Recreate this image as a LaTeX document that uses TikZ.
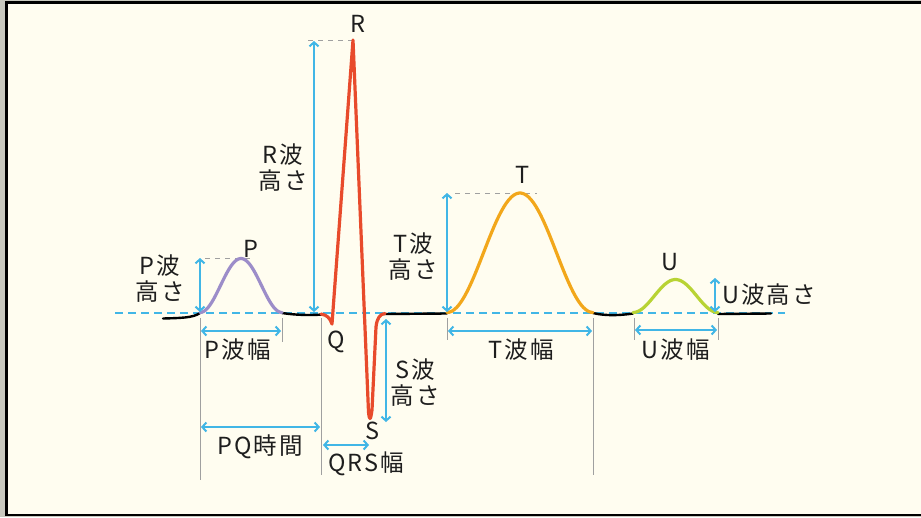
\documentclass[tikz,border=0pt]{standalone}
\usepackage{fontspec}
\setmainfont{Noto Sans CJK JP}[LetterSpace=9]
\usetikzlibrary{arrows.meta}
\definecolor{cream}{HTML}{FFFDF0}
\definecolor{edge}{HTML}{C9C9BF}
\definecolor{ablue}{HTML}{41B6E6}
\definecolor{pcol}{HTML}{9C8DC9}
\definecolor{rcol}{HTML}{E84B2C}
\definecolor{tcol}{HTML}{F2A71B}
\definecolor{ucol}{HTML}{B8D334}
\definecolor{gline}{HTML}{A0A0A0}
\definecolor{txt}{HTML}{1E1E1E}
\tikzset{
  lbl/.style={text=txt, font=\fontsize{23.5}{26}\selectfont, inner sep=0pt, align=center},
  meas/.style={draw=ablue, line width=2pt, {Straight Barb[length=4pt,width=9pt]}-{Straight Barb[length=4pt,width=9pt]}},
  guide/.style={draw=gline, line width=0.8pt},
  guidedash/.style={draw=gline, line width=0.8pt, dash pattern=on 5pt off 5pt},
  base/.style={draw=black, line width=2.4pt, line cap=round},
  wave/.style={line width=3.2pt, line cap=round, line join=round},
}
\begin{document}
\begin{tikzpicture}[x=1pt,y=-1pt]
\useasboundingbox (0,0) rectangle (921,517);
% background and frame
\fill[edge] (0,0) rectangle (921,517);
\fill[cream] (6,2) rectangle (921,515);
\draw[black, line width=2.6pt] (921,2.2) -- (6.3,2.2) -- (6.3,514.8) -- (921,514.8);

% baseline
\draw[ablue, line width=2pt, dash pattern=on 8pt off 5pt] (115,312.5) -- (785,312.5);

% guide lines
\draw[guide] (200,318) -- (200,480);
\draw[guide] (282,318) -- (282,342);
\draw[guide] (321,318) -- (321,475);
\draw[guide] (447,318) -- (447,340);
\draw[guide] (593,318) -- (593,475);
\draw[guide] (634,318) -- (634,340);
\draw[guide] (718,318) -- (718,340);
\draw[guidedash] (205,258) -- (250,258);
\draw[guidedash] (308,40) -- (353,40);
\draw[guidedash] (455,193) -- (537,193);

% black baseline pieces
\draw[base] (163,318.5) .. controls (180,318) and (193,318) .. (200,313);
\draw[base] (282,313) .. controls (295,315) and (310,315.5) .. (322,314.5);
\draw[base] (384,314) -- (447,313.5);
\draw[base] (593,313) .. controls (605,316) and (620,315.5) .. (633,313.5);
\draw[base] (718,314) -- (771,313.5);

% waves
\draw[wave, pcol] plot[domain=0:1, samples=50, variable=\t] ({200+82*\t},{312.5-54*(1-cos(360*\t))/2});
\draw[wave, tcol] plot[domain=0:1, samples=60, variable=\t] ({447+146*\t},{312.5-119.5*(1-cos(360*\t))/2});
\draw[wave, ucol] plot[domain=0:1, samples=40, variable=\t] ({633+85*\t},{312.5-33*(1-cos(360*\t))/2});
\draw[wave, rcol] (321,314) .. controls (327,315) and (330,318) .. (332,324)
  -- (353,40) -- (368.5,412) .. controls (369.5,421) and (370.5,421) .. (372,410)
  -- (376,327) .. controls (377,318) and (380,314) .. (385,313.5);

% measurement coordinates
\coordinate (pb) at (200,312); \coordinate (pt) at (200,258);
\coordinate (rb) at (314,312); \coordinate (rt) at (314,41);
\coordinate (tb) at (447,312); \coordinate (tt) at (447,193);
\coordinate (ub) at (715,312); \coordinate (ut) at (715,278);
\coordinate (st) at (386,319); \coordinate (sb) at (386,422);
\coordinate (pw1) at (201,331); \coordinate (pw2) at (281,331);
\coordinate (tw1) at (448,331); \coordinate (tw2) at (592,331);
\coordinate (uw1) at (635,330); \coordinate (uw2) at (717,330);
\coordinate (pq1) at (201,427); \coordinate (pq2) at (320,427);
\coordinate (qr1) at (323,445); \coordinate (qr2) at (369,445);

\draw[meas] (pb) -- (pt);
\draw[meas] (rb) -- (rt);
\draw[meas] (tb) -- (tt);
\draw[meas] (ub) -- (ut);
\draw[meas] (st) -- (sb);
\draw[meas] (pw1) -- (pw2);
\draw[meas] (tw1) -- (tw2);
\draw[meas] (uw1) -- (uw2);
\draw[meas] (pq1) -- (pq2);
\draw[meas] (qr1) -- (qr2);

% labels
\node[lbl] (lP) at (251,249) {P};
\node[lbl] (lR) at (358,24) {R};
\node[lbl] (lQ) at (336,342) {Q};
\node[lbl] (lS) at (372,431) {S};
\node[lbl] (lT) at (523,175) {T};
\node[lbl] (lU) at (670,262) {U};
\node[lbl] (lPh) at (160,279) {P波\\高さ};
\node[lbl] (lRh) at (283,168) {R波\\高さ};
\node[lbl] (lTh) at (413,257) {T波\\高さ};
\node[lbl] (lSh) at (415,383) {S波\\高さ};
\node[lbl, anchor=west] (lUh) at (722,295) {U波高さ};
\node[lbl] (lPw) at (238,350) {P波幅};
\node[lbl] (lTw) at (521,350) {T波幅};
\node[lbl] (lUw) at (676,350) {U波幅};
\node[lbl] (lPQ) at (260,447) {PQ時間};
\node[lbl] (lQRS) at (366,464) {QRS幅};
\end{tikzpicture}
\end{document}
